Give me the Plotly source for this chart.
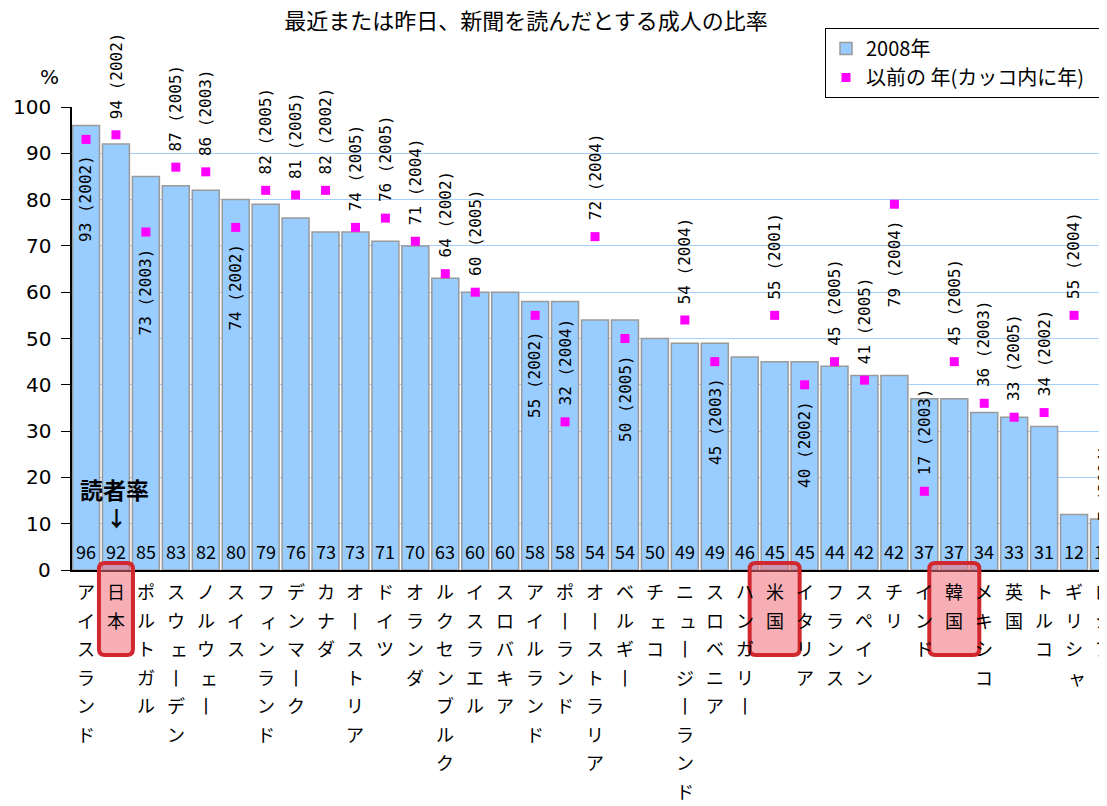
import plotly.graph_objects as go

# ---------------- data ----------------
countries = ["アイスランド", "日本", "ポルトガル", "スウェーデン", "ノルウェー", "スイス",
             "フィンランド", "デンマーク", "カナダ", "オーストリア", "ドイツ", "オランダ",
             "ルクセンブルク", "イスラエル", "スロバキア", "アイルランド", "ポーランド",
             "オーストラリア", "ベルギー", "チェコ", "ニュージーランド", "スロベニア",
             "ハンガリー", "米国", "イタリア", "フランス", "スペイン", "チリ", "インド",
             "韓国", "メキシコ", "英国", "トルコ", "ギリシャ", "ロシア"]

readers_2008 = [96, 92, 85, 83, 82, 80, 79, 76, 73, 73, 71, 70, 63, 60, 60, 58, 58,
                54, 54, 50, 49, 49, 46, 45, 45, 44, 42, 42, 37, 37, 34, 33, 31, 12, 11]

prev_values = [93, 94, 73, 87, 86, 74, 82, 81, 82, 74, 76, 71, 64, 60, None, 55, 32,
               72, 50, None, 54, 45, None, 55, 40, 45, 41, 79, 17, 45, 36, 33, 34, 55, 7]

prev_years = [2002, 2002, 2003, 2005, 2003, 2002, 2005, 2005, 2002, 2005, 2005, 2004,
              2002, 2005, None, 2002, 2004, 2004, 2005, None, 2004, 2003, None, 2001,
              2002, 2005, 2005, 2004, 2003, 2005, 2003, 2005, 2002, 2004, 2004]

labels_below = ["アイスランド", "ポルトガル", "スイス", "アイルランド", "ベルギー",
                "スロベニア", "イタリア", "チリ"]
highlighted = ["日本", "米国", "韓国"]

title_text = "最近または昨日、新聞を読んだとする成人の比率"
legend_bar = "2008年"
legend_prev = "以前の 年(カッコ内に年)"
y_ticks = [0, 10, 20, 30, 40, 50, 60, 70, 80, 90, 100]

# ---------------- layout helpers ----------------
FONT = "Noto Sans CJK JP"
MONO = "DejaVu Sans Mono"
OFF = 8                      # page body margin of the html page
W, H = 1107 - OFF, 806 - OFF
L, R, T, B = 64, 0, 99, 236  # in figure pixels
PW, PH = W - L - R, H - T - B
XR = [-0.468, 34.1]


def px_x(page_px):
    return (page_px - OFF - L) / PW


def px_y(page_py):
    return (H - B - (page_py - OFF)) / PH


def cat_px(i):
    return OFF + L + (i - XR[0]) / (XR[1] - XR[0]) * PW


fig = go.Figure()

fig.add_trace(go.Bar(
    x=countries, y=readers_2008, name=legend_bar,
    marker=dict(color="#99CCFF", line=dict(color="#9a9a9a", width=1.5)),
    legendgroup="a",
))

fig.add_trace(go.Scatter(
    x=countries, y=prev_values, mode="markers", name=legend_prev + "\u00a0\u00a0\u00a0",
    marker=dict(symbol="square", size=9, color="#FF00FF"),
    legendgroup="b",
))

annotations = []

# y tick labels
for t in y_ticks:
    annotations.append(dict(x=px_x(53), y=t, xref="paper", yref="y", text=str(t),
                            xanchor="right", yanchor="middle", showarrow=False,
                            font=dict(size=20, color="black", family="DejaVu Sans")))

# value labels at bottom of bars
for c, v in zip(countries, readers_2008):
    annotations.append(dict(x=c, y=0, xref="x", yref="y", text=str(v), showarrow=False,
                            yanchor="bottom", yshift=4,
                            font=dict(size=18, color="black", family=FONT)))

# previous year labels (rotated)
for c, v, yr in zip(countries, prev_values, prev_years):
    if v is None:
        continue
    below = c in labels_below
    annotations.append(dict(x=c, y=v, xref="x", yref="y", text=f"{v} ({yr})", showarrow=False,
                            textangle=-90, yanchor="top" if below else "bottom",
                            yshift=-14 if below else 14,
                            font=dict(size=16, color="black", family=MONO)))

# vertical category labels
small = set("ァィゥェォッャュョ")
for i, c in enumerate(countries):
    for j, ch in enumerate(c):
        disp = "丨" if ch == "ー" else ch
        annotations.append(dict(x=c, y=0, xref="x", yref="paper", text=disp, showarrow=False,
                                yanchor="middle", yshift=-(21 + j * 28.5),
                                xshift=3 if ch in small else 0,
                                font=dict(size=18, color="black", family=FONT)))

# % label
annotations.append(dict(x=px_x(49), y=px_y(77), xref="paper", yref="paper", text="%",
                        xanchor="center", yanchor="middle", showarrow=False,
                        font=dict(size=20, color="black", family="DejaVu Sans")))
# 読者率 label
annotations.append(dict(x=px_x(114), y=px_y(489), xref="paper", yref="paper", text="<b>読者率</b>",
                        xanchor="center", yanchor="middle", showarrow=False,
                        font=dict(size=23, color="black", family=FONT)))
annotations.append(dict(x=px_x(116), y=px_y(517), xref="paper", yref="paper", text="<b>↓</b>",
                        xanchor="center", yanchor="middle", showarrow=False,
                        font=dict(size=21, color="black", family=FONT)))

# highlight boxes
shapes = []
for c in highlighted:
    i = countries.index(c)
    cx = cat_px(i)
    half = 17 if c == "日本" else 25
    x0, x1 = cx - half, cx + half
    y0, y1 = 563, 655
    r = 6
    path = (f"M {px_x(x0 + r)},{px_y(y0)} L {px_x(x1 - r)},{px_y(y0)} "
            f"Q {px_x(x1)},{px_y(y0)} {px_x(x1)},{px_y(y0 + r)} "
            f"L {px_x(x1)},{px_y(y1 - r)} Q {px_x(x1)},{px_y(y1)} {px_x(x1 - r)},{px_y(y1)} "
            f"L {px_x(x0 + r)},{px_y(y1)} Q {px_x(x0)},{px_y(y1)} {px_x(x0)},{px_y(y1 - r)} "
            f"L {px_x(x0)},{px_y(y0 + r)} Q {px_x(x0)},{px_y(y0)} {px_x(x0 + r)},{px_y(y0)} Z")
    shapes.append(dict(type="path", path=path, xref="paper", yref="paper",
                       line=dict(color="#D0282E", width=4),
                       fillcolor="rgba(240,110,120,0.55)", layer="above"))

fig.update_layout(
    width=W, height=H,
    margin=dict(l=L, r=R, t=T, b=B, pad=0),
    paper_bgcolor="white", plot_bgcolor="white",
    font=dict(family=FONT, color="black"),
    title=dict(text=title_text, x=(526 - OFF) / W, xref="container", xanchor="center",
               y=1 - (21 - OFF) / H, yref="container", yanchor="middle",
               font=dict(size=22, color="black", family=FONT)),
    bargap=0.1,
    showlegend=True,
    legend=dict(x=px_x(825), y=px_y(28), xanchor="left", yanchor="top",
                bgcolor="white", bordercolor="black", borderwidth=1,
                font=dict(size=20, color="black", family=FONT),
                traceorder="grouped", tracegroupgap=0, itemwidth=30),
    annotations=annotations,
    shapes=shapes,
)

fig.update_xaxes(type="category", range=XR, showticklabels=False, ticks="",
                 showline=True, linecolor="black", linewidth=1.5, showgrid=False,
                 zeroline=False)
fig.update_yaxes(range=[0, 100], tickvals=y_ticks, ticks="outside", ticklen=9,
                 tickcolor="black", showline=True, linecolor="black", linewidth=1.5,
                 gridcolor="#A3CFFA", gridwidth=1, zeroline=False,
                 showticklabels=False)

fig.write_html("out.html")
